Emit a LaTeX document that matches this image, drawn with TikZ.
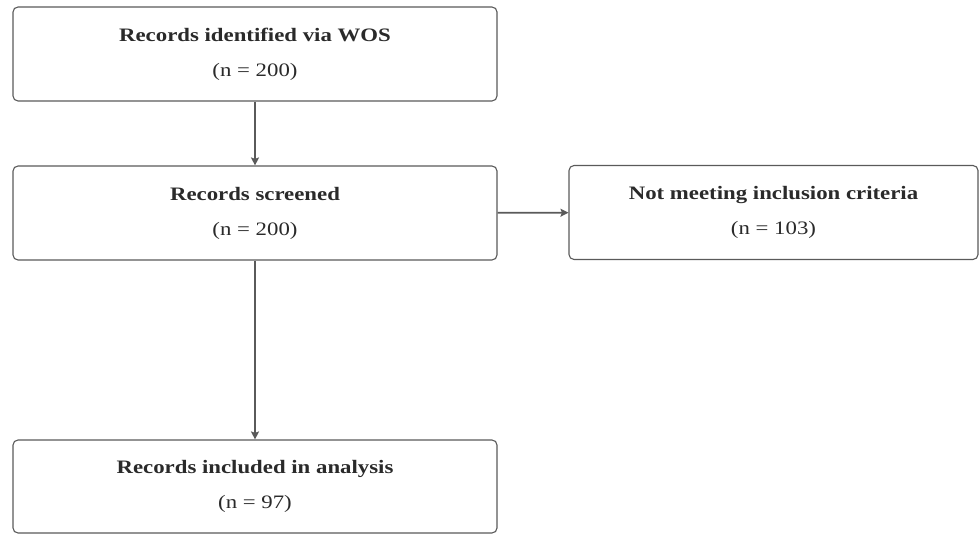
\documentclass[tikz,border=0pt]{standalone}
\usepackage{fontspec}
\setmainfont{Liberation Serif}[FakeStretch=1.2]
\usetikzlibrary{arrows.meta}
\definecolor{edge}{HTML}{5A5A5A}
\definecolor{ink}{HTML}{2A2A2A}
\tikzset{
  box/.style={draw=edge, line width=1.1pt, rounded corners=5pt, fill=white,
    minimum height=94pt, align=center, inner sep=0pt, text=ink,
    font=\fontsize{19}{35}\selectfont},
  conn/.style={draw=edge, line width=1.6pt, -{Stealth[length=8pt,width=8pt,inset=1.5pt]}}
}
\begin{document}
\begin{tikzpicture}[x=1pt,y=1pt]
\useasboundingbox (0,0) rectangle (979,-534);
\node[box, minimum width=484pt] (wos) at (255,-54) {\textbf{Records identified via WOS}\\(n = 200)};
\node[box, minimum width=484pt] (scr) at (255,-213) {\textbf{Records screened}\\(n = 200)};
\node[box, minimum width=409pt] (exc) at (773.5,-212.5) {\textbf{Not meeting inclusion criteria}\\(n = 103)};
\node[box, minimum width=484pt, minimum height=93pt] (inc) at (255,-486.5) {\textbf{Records included in analysis}\\(n = 97)};
\draw[conn] (wos) -- (scr);
\draw[conn] (scr) -- (exc);
\draw[conn] (scr) -- (inc);
\end{tikzpicture}
\end{document}
